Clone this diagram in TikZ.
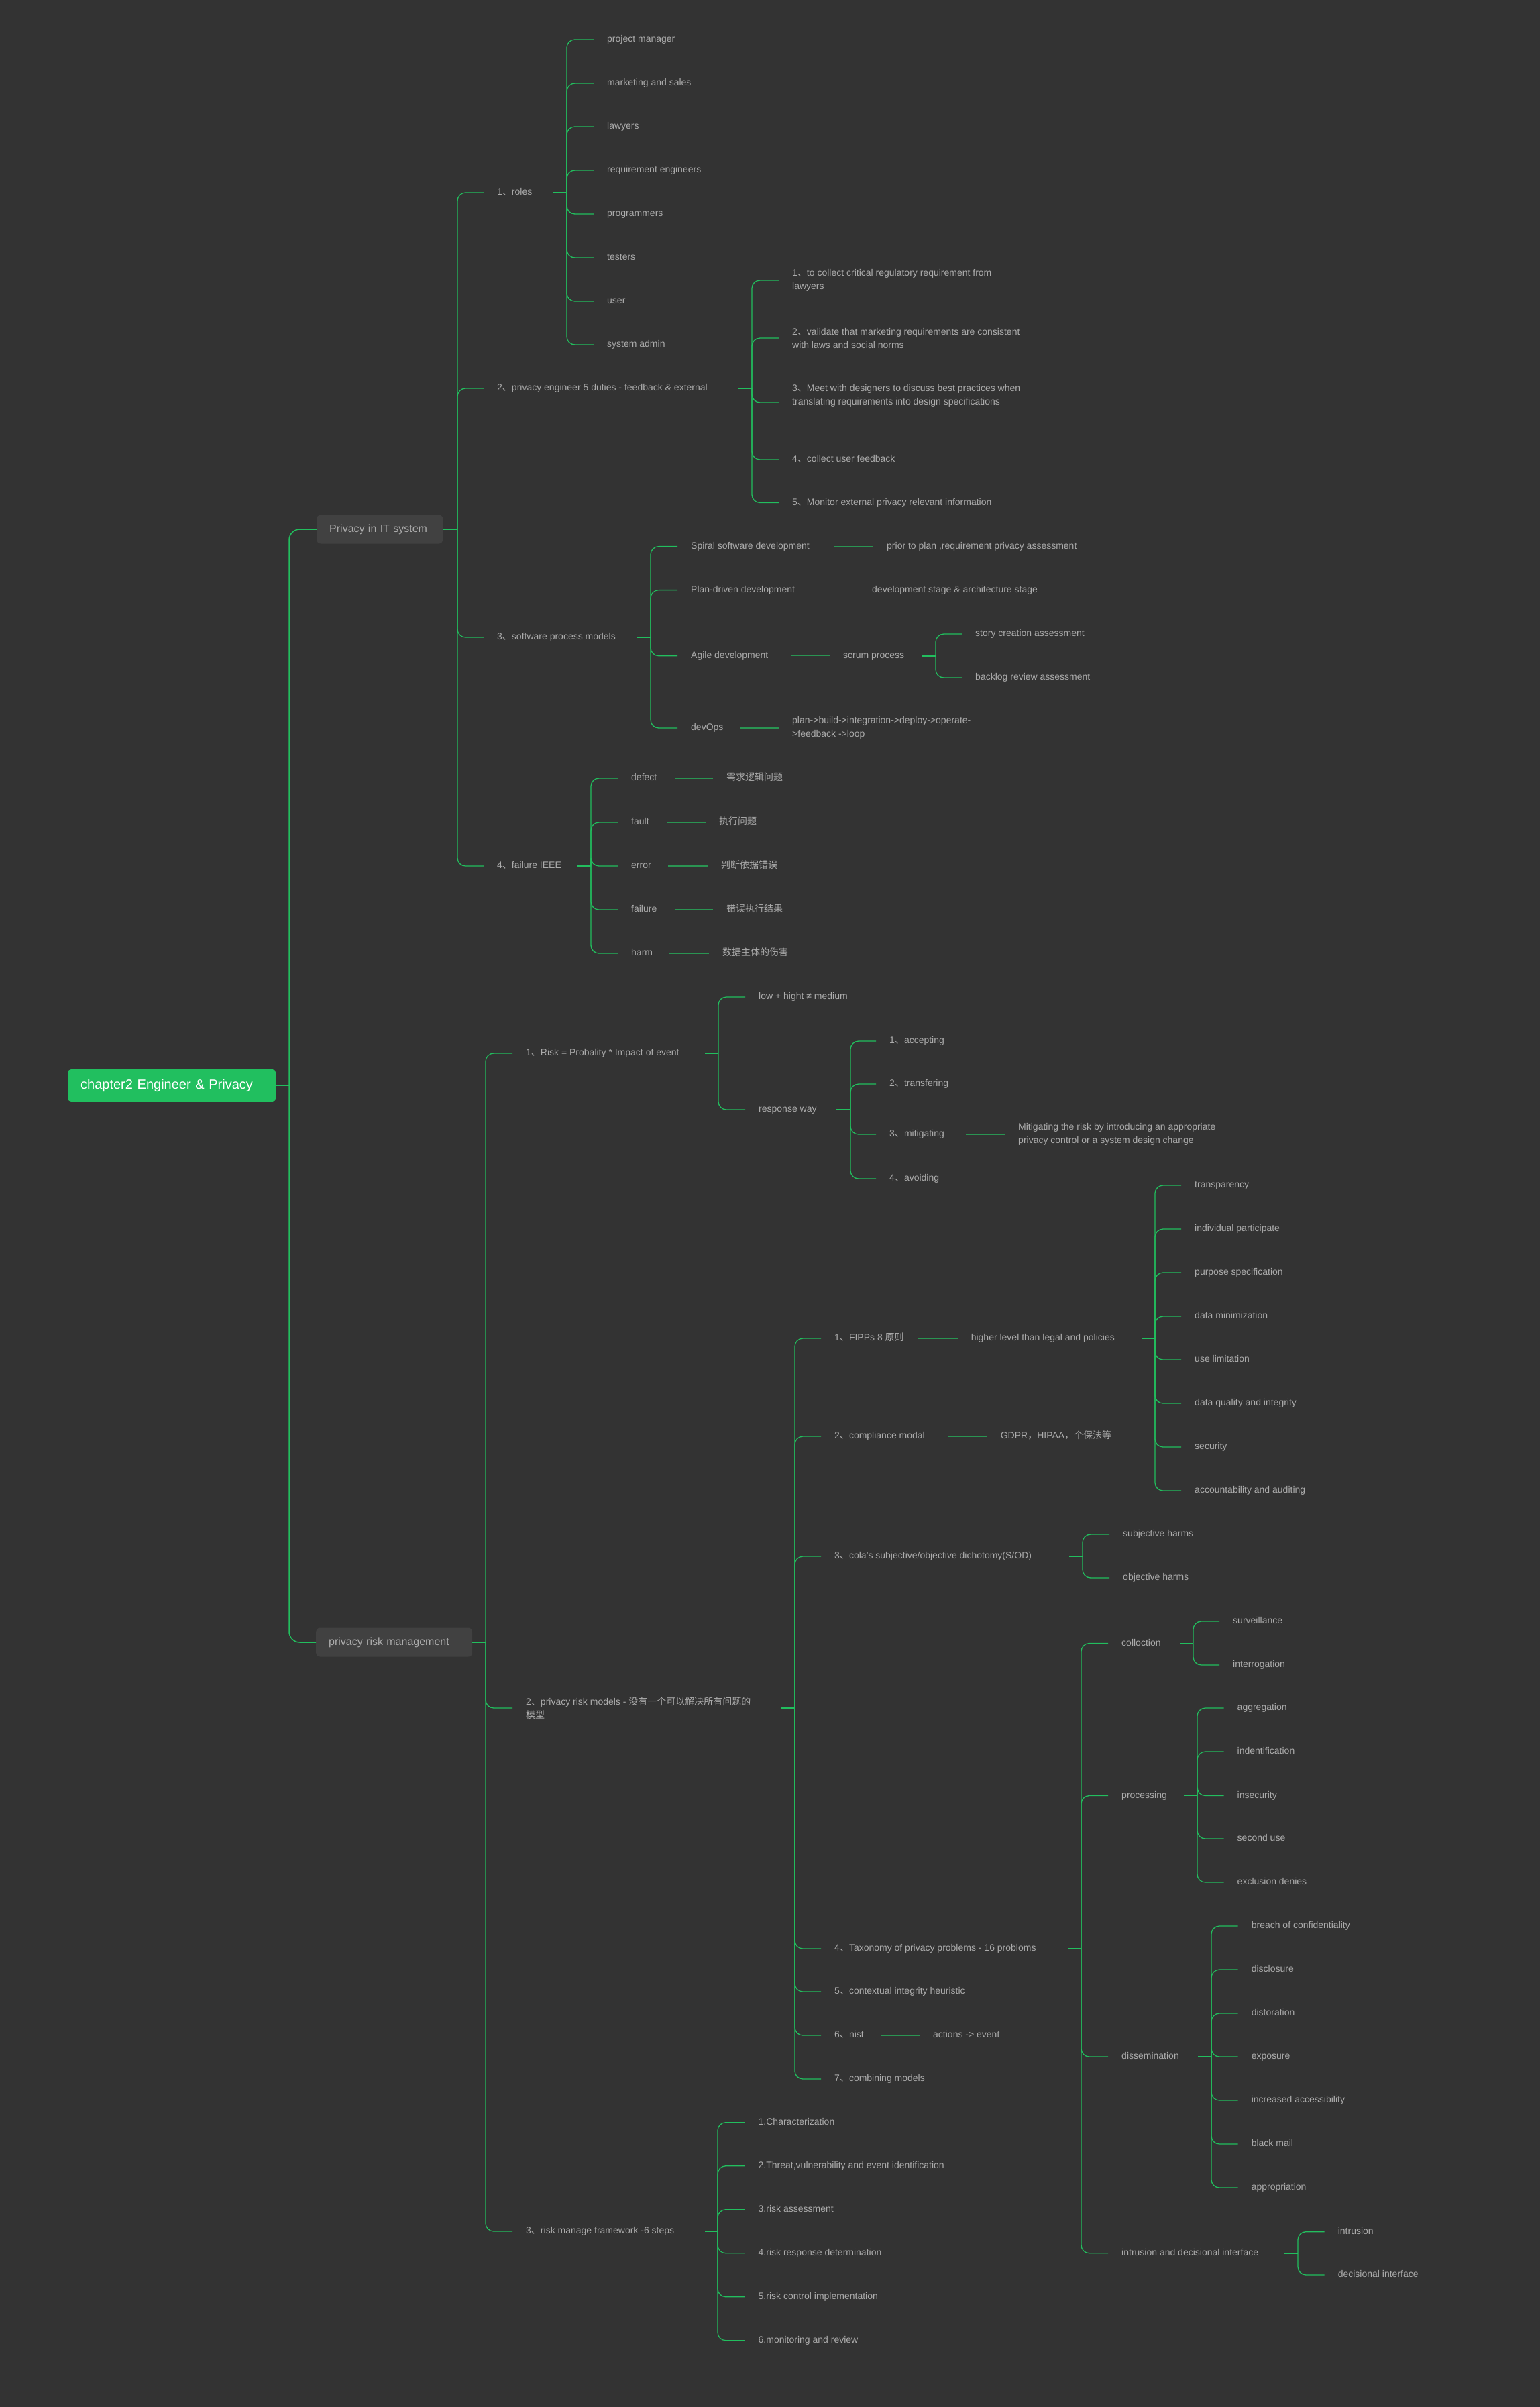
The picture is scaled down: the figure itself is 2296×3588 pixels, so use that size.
\documentclass[tikz,border=0pt]{standalone}
\usepackage{fontspec}
\setmainfont{Liberation Sans}
\newfontfamily\cjk{Noto Sans CJK SC}
\newcommand{\zdun}{{\cjk 、}}
\definecolor{bg}{HTML}{333333}
\definecolor{ln}{HTML}{22BE5E}
\definecolor{lndark}{HTML}{2A9452}
\definecolor{txt}{HTML}{ABABAB}
\definecolor{boxc}{HTML}{414141}
\definecolor{rootc}{HTML}{21BF5F}
\begin{document}
\begin{tikzpicture}[x=1pt,y=-1pt,
  lbl/.style={anchor=west, inner sep=0pt, text=txt, font=\fontsize{14}{20}\selectfont, text height=10pt, text depth=3pt},
  lbltwo/.style={anchor=west, inner sep=0pt, text=txt, font=\fontsize{14}{20}\selectfont, align=left},
  br/.style={draw=ln, line width=1.3pt, rounded corners=12pt},
  chain/.style={draw=lndark, line width=1.4pt},
  stub/.style={draw=ln, line width=1.8pt},
  trunk/.style={draw=ln, line width=1.5pt, rounded corners=16pt},
  topicbox/.style={anchor=west, fill=boxc, rounded corners=6pt, text=txt, font=\fontsize{16}{20}\selectfont, inner xsep=19pt, inner ysep=0pt, minimum height=43pt, text height=11.5pt, text depth=3.4pt},
  rootbox/.style={anchor=west, fill=rootc, rounded corners=5pt, text=white, font=\fontsize{20}{24}\selectfont, inner xsep=19pt, inner ysep=0pt, text width=272pt, minimum height=48pt, text height=14.5pt, text depth=4pt}
]
\useasboundingbox (0,0) rectangle (2296,3588);
\fill[bg] (0,0) rectangle (2296,3588);

% ---------- main topics ----------
\node[rootbox] (root) at (101,1618) {chapter2 Engineer \& Privacy};
\node[topicbox, text width=150pt] (it) at (472,789) {Privacy in IT system};
\node[topicbox, text width=195pt] (rm) at (471,2448) {privacy risk management};

\coordinate (trunkJ) at (431,1618);
\coordinate (itJ) at (682,789);
\coordinate (rmJ) at (724,2448);
\draw[stub] (root.east) -- (trunkJ);
\draw[trunk] (trunkJ) |- (it.west);
\draw[trunk] (trunkJ) |- (rm.west);
\draw[stub] (it.east) -- (itJ);
\draw[stub] (rm.east) -- (rmJ);

% ---------- Privacy in IT system ----------
\node[lbl] (roles) at (741,287) {1\zdun roles};
\node[lbl] (duties) at (741,579) {2\zdun privacy engineer 5 duties - feedback \& external};
\node[lbl] (spm) at (741,950) {3\zdun software process models};
\node[lbl] (fail) at (741,1291) {4\zdun failure IEEE};
\foreach \c in {roles,duties,spm,fail} \draw[br] (itJ) |- ([xshift=-20pt]\c.west);

% roles
\coordinate (rolesJ) at (845,287);
\coordinate (rolesS) at (825,287);
\draw[stub] (rolesS) -- (rolesJ);
\node[lbl] (pm) at (905,59) {project manager};
\node[lbl] (ms) at (905,124) {marketing and sales};
\node[lbl] (law) at (905,189) {lawyers};
\node[lbl] (re) at (905,254) {requirement engineers};
\node[lbl] (prog) at (905,319) {programmers};
\node[lbl] (test) at (905,384) {testers};
\node[lbl] (usr) at (905,449) {user};
\node[lbl] (sa) at (905,514) {system admin};
\foreach \c in {pm,ms,law,re,prog,test,usr,sa} \draw[br] (rolesJ) |- ([xshift=-20pt]\c.west);

% duties
\coordinate (dutJ) at (1121,579);
\coordinate (dutS) at (1101,579);
\draw[stub] (dutS) -- (dutJ);
\node[lbltwo] (d1) at (1181,418) {1\zdun to collect critical regulatory requirement from\\lawyers};
\node[lbltwo] (d2) at (1181,504) {2\zdun validate that marketing requirements are consistent\\with laws and social norms};
\node[lbltwo] (d3) at (1181,590) {3\zdun Meet with designers to discuss best practices when\\translating requirements into design specifications};
\node[lbl] (d4) at (1181,685) {4\zdun collect user feedback};
\node[lbl] (d5) at (1181,749.5) {5\zdun Monitor external privacy relevant information};
\draw[br] (dutJ) |- ([xshift=-20pt]d1.west);
\draw[br] (dutJ) |- ([xshift=-20pt]d2.west);
\draw[br] (dutJ) |- ([xshift=-20pt,yshift=-10pt]d3.west);
\draw[br] (dutJ) |- ([xshift=-20pt]d4.west);
\draw[br] (dutJ) |- ([xshift=-20pt]d5.west);

% software process models
\coordinate (spmJ) at (970,950);
\coordinate (spmS) at (950,950);
\draw[stub] (spmS) -- (spmJ);
\node[lbl] (spiral) at (1030,814.6) {Spiral software development};
\node[lbl] (plan) at (1030,879.6) {Plan-driven development};
\node[lbl] (agile) at (1030,977.7) {Agile development};
\node[lbl] (devops) at (1030,1085) {devOps};
\foreach \c in {spiral,plan,agile,devops} \draw[br] (spmJ) |- ([xshift=-20pt]\c.west);
\node[lbl] (spiralC) at (1322,814.6) {prior to plan ,requirement privacy assessment};
\node[lbl] (planC) at (1300,879.6) {development stage \& architecture stage};
\node[lbl] (scrum) at (1257,977.7) {scrum process};
\node[lbltwo] (devC) at (1181,1085) {plan->build->integration->deploy->operate-\\>feedback ->loop};
\draw[chain] ([xshift=36pt]spiral.east) -- ([xshift=-20pt]spiralC.west);
\draw[chain] ([xshift=36pt]plan.east) -- ([xshift=-20pt]planC.west);
\draw[chain] ([xshift=33pt]agile.east) -- ([xshift=-20pt]scrum.west);
\draw[chain] ([xshift=25pt]devops.east) -- ([xshift=-20pt]devC.west);
\coordinate (scrumJ) at (1395,977.7);
\coordinate (scrumS) at (1375,977.7);
\draw[stub] (scrumS) -- (scrumJ);
\node[lbl] (story) at (1454,945) {story creation assessment};
\node[lbl] (backlog) at (1454,1010) {backlog review assessment};
\draw[br] (scrumJ) |- ([xshift=-20pt]story.west);
\draw[br] (scrumJ) |- ([xshift=-20pt]backlog.west);

% failure IEEE
\coordinate (failJ) at (881,1291);
\coordinate (failS) at (860,1291);
\draw[stub] (failS) -- (failJ);
\node[lbl] (defect) at (941,1160) {defect};
\node[lbl] (fault) at (941,1226) {fault};
\node[lbl] (error) at (941,1291) {error};
\node[lbl] (failure) at (941,1356) {failure};
\node[lbl] (harm) at (941,1421) {harm};
\foreach \c in {defect,fault,error,failure,harm} \draw[br] (failJ) |- ([xshift=-20pt]\c.west);
\node[lbl] (c1) at (1083,1160) {\cjk 需求逻辑问题};
\node[lbl] (c2) at (1072,1226) {\cjk 执行问题};
\node[lbl] (c3) at (1075,1291) {\cjk 判断依据错误};
\node[lbl] (c4) at (1083,1356) {\cjk 错误执行结果};
\node[lbl] (c5) at (1077,1421) {\cjk 数据主体的伤害};
\draw[chain] ([xshift=26pt]defect.east) -- ([xshift=-20pt]c1.west);
\draw[chain] ([xshift=26pt]fault.east) -- ([xshift=-20pt]c2.west);
\draw[chain] ([xshift=25pt]error.east) -- ([xshift=-20pt]c3.west);
\draw[chain] ([xshift=26pt]failure.east) -- ([xshift=-20pt]c4.west);
\draw[chain] ([xshift=25pt]harm.east) -- ([xshift=-20pt]c5.west);

% ---------- privacy risk management ----------
\node[lbl] (risk) at (784,1570) {1\zdun Risk = Probality * Impact of event};
\node[lbltwo] (models) at (784,2546) {2\zdun privacy risk models - {\cjk 没有一个可以解决所有问题的}\\{\cjk 模型}};
\node[lbl] (fw) at (784,3326) {3\zdun risk manage framework -6 steps};
\foreach \c in {risk,models,fw} \draw[br] (rmJ) |- ([xshift=-20pt]\c.west);

% risk
\coordinate (riskJ) at (1071,1570);
\coordinate (riskS) at (1051,1570);
\draw[stub] (riskS) -- (riskJ);
\node[lbl] (low) at (1131,1486) {low + hight ≠ medium};
\node[lbl] (resp) at (1131,1654) {response way};
\draw[br] (riskJ) |- ([xshift=-20pt]low.west);
\draw[br] (riskJ) |- ([xshift=-20pt]resp.west);
\coordinate (respJ) at (1268,1654);
\coordinate (respS) at (1247,1654);
\draw[stub] (respS) -- (respJ);
\node[lbl] (acc) at (1326,1552) {1\zdun accepting};
\node[lbl] (tra) at (1326,1616) {2\zdun transfering};
\node[lbl] (mit) at (1326,1691) {3\zdun mitigating};
\node[lbl] (avo) at (1326,1757) {4\zdun avoiding};
\foreach \c in {acc,tra,mit,avo} \draw[br] (respJ) |- ([xshift=-20pt]\c.west);
\node[lbltwo] (mitC) at (1518,1691) {Mitigating the risk by introducing an appropriate\\privacy control or a system design change};
\draw[chain] ([xshift=32pt]mit.east) -- ([xshift=-20pt]mitC.west);

% models
\coordinate (modJ) at (1185,2546);
\coordinate (modS) at (1165,2546);
\draw[stub] (modS) -- (modJ);
\node[lbl] (fipps) at (1244,1995) {1\zdun FIPPs 8 {\cjk 原则}};
\node[lbl] (comp) at (1244,2141) {2\zdun compliance modal};
\node[lbl] (cola) at (1244,2320) {3\zdun cola's subjective/objective dichotomy(S/OD)};
\node[lbl] (tax) at (1244,2905) {4\zdun Taxonomy of privacy problems - 16 probloms};
\node[lbl] (ctx) at (1244,2969) {5\zdun contextual integrity heuristic};
\node[lbl] (nist) at (1244,3034) {6\zdun nist};
\node[lbl] (comb) at (1244,3099) {7\zdun combining models};
\foreach \c in {fipps,comp,cola,tax,ctx,nist,comb} \draw[br] (modJ) |- ([xshift=-20pt]\c.west);

\node[lbl] (fippsC) at (1447.6,1995) {higher level than legal and policies};
\draw[chain] ([xshift=21.5pt]fipps.east) -- ([xshift=-20pt]fippsC.west);
\coordinate (fipJ) at (1722,1995);
\coordinate (fipS) at (1702,1995);
\draw[stub] (fipS) -- (fipJ);
\node[lbl] (f1) at (1781,1767) {transparency};
\node[lbl] (f2) at (1781,1832) {individual participate};
\node[lbl] (f3) at (1781,1897) {purpose specification};
\node[lbl] (f4) at (1781,1962) {data minimization};
\node[lbl] (f5) at (1781,2027) {use limitation};
\node[lbl] (f6) at (1781,2092) {data quality and integrity};
\node[lbl] (f7) at (1781,2157) {security};
\node[lbl] (f8) at (1781,2222) {accountability and auditing};
\foreach \c in {f1,f2,f3,f4,f5,f6,f7,f8} \draw[br] (fipJ) |- ([xshift=-20pt]\c.west);

\node[lbl] (compC) at (1491.6,2141) {GDPR{\cjk ，}HIPAA{\cjk ，个保法等}};
\draw[chain] ([xshift=33.5pt]comp.east) -- ([xshift=-20pt]compC.west);

\coordinate (colaJ) at (1614,2320);
\coordinate (colaS) at (1594,2320);
\draw[stub] (colaS) -- (colaJ);
\node[lbl] (subj) at (1674,2287) {subjective harms};
\node[lbl] (obj) at (1674,2352) {objective harms};
\draw[br] (colaJ) |- ([xshift=-20pt]subj.west);
\draw[br] (colaJ) |- ([xshift=-20pt]obj.west);

% taxonomy
\coordinate (taxJ) at (1612,2905);
\coordinate (taxS) at (1592,2905);
\draw[stub] (taxS) -- (taxJ);
\node[lbl] (coll) at (1672,2449.5) {colloction};
\node[lbl] (proc) at (1672,2676.5) {processing};
\node[lbl] (diss) at (1672,3066) {dissemination};
\node[lbl] (intr) at (1672,3358.7) {intrusion and decisional interface};
\foreach \c in {coll,proc,diss,intr} \draw[br] (taxJ) |- ([xshift=-20pt]\c.west);

\coordinate (collJ) at (1779,2449.5);
\coordinate (collS) at (1759,2449.5);
\draw[stub] (collS) -- (collJ);
\node[lbl] (sv) at (1838,2417) {surveillance};
\node[lbl] (inq) at (1838,2482) {interrogation};
\draw[br] (collJ) |- ([xshift=-20pt]sv.west);
\draw[br] (collJ) |- ([xshift=-20pt]inq.west);

\coordinate (procJ) at (1785,2676.5);
\coordinate (procS) at (1765,2676.5);
\draw[stub] (procS) -- (procJ);
\node[lbl] (p1) at (1844.5,2546) {aggregation};
\node[lbl] (p2) at (1844.5,2611) {indentification};
\node[lbl] (p3) at (1844.5,2676.5) {insecurity};
\node[lbl] (p4) at (1844.5,2741) {second use};
\node[lbl] (p5) at (1844.5,2806) {exclusion denies};
\foreach \c in {p1,p2,p3,p4,p5} \draw[br] (procJ) |- ([xshift=-20pt]\c.west);

\coordinate (dissJ) at (1806,3066);
\coordinate (dissS) at (1786,3066);
\draw[stub] (dissS) -- (dissJ);
\node[lbl] (s1) at (1865.6,2871) {breach of confidentiality};
\node[lbl] (s2) at (1865.6,2936) {disclosure};
\node[lbl] (s3) at (1865.6,3001) {distoration};
\node[lbl] (s4) at (1865.6,3066) {exposure};
\node[lbl] (s5) at (1865.6,3131) {increased accessibility};
\node[lbl] (s6) at (1865.6,3196) {black mail};
\node[lbl] (s7) at (1865.6,3261) {appropriation};
\foreach \c in {s1,s2,s3,s4,s5,s6,s7} \draw[br] (dissJ) |- ([xshift=-20pt]\c.west);

\coordinate (intrJ) at (1935,3358.7);
\coordinate (intrS) at (1915,3358.7);
\draw[stub] (intrS) -- (intrJ);
\node[lbl] (i1) at (1994.6,3326.6) {intrusion};
\node[lbl] (i2) at (1994.6,3391) {decisional interface};
\draw[br] (intrJ) |- ([xshift=-20pt]i1.west);
\draw[br] (intrJ) |- ([xshift=-20pt]i2.west);

\node[lbl] (nistC) at (1391,3034) {actions -> event};
\draw[chain] ([xshift=25pt]nist.east) -- ([xshift=-20pt]nistC.west);

% framework
\coordinate (fwJ) at (1070,3326);
\coordinate (fwS) at (1051,3326);
\draw[stub] (fwS) -- (fwJ);
\node[lbl] (w1) at (1130.5,3163.7) {1.Characterization};
\node[lbl] (w2) at (1130.5,3228.7) {2.Threat,vulnerability and event identification};
\node[lbl] (w3) at (1130.5,3293.7) {3.risk assessment};
\node[lbl] (w4) at (1130.5,3358.7) {4.risk response determination};
\node[lbl] (w5) at (1130.5,3423.7) {5.risk control implementation};
\node[lbl] (w6) at (1130.5,3488.7) {6.monitoring and review};
\foreach \c in {w1,w2,w3,w4,w5,w6} \draw[br] (fwJ) |- ([xshift=-20pt]\c.west);
\end{tikzpicture}
\end{document}
